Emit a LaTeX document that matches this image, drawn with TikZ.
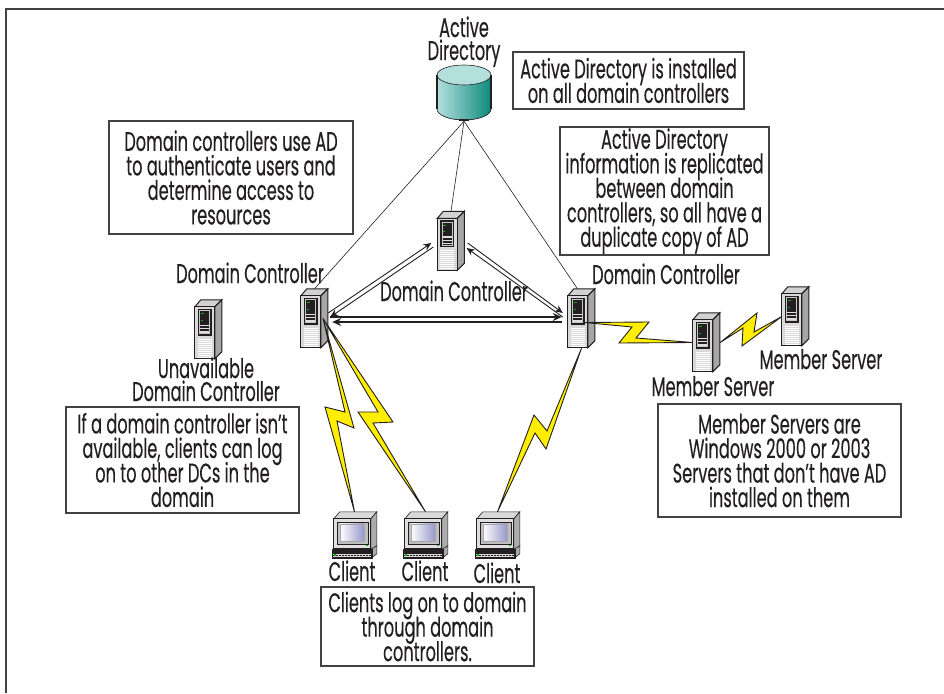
\documentclass[tikz,border=0pt]{standalone}
\usepackage{fontspec}
\setmainfont[FakeStretch=0.6,FakeBold=0.3]{Poppins}
\usetikzlibrary{arrows.meta}
\definecolor{ink}{HTML}{231F20}
\definecolor{boltyellow}{HTML}{FFEE00}
\definecolor{adlight}{HTML}{B4E0DC}
\definecolor{addark}{HTML}{0E8A7E}
\definecolor{screenblue}{HTML}{9A9ACC}
\newcommand{\tightlines}{\setlength{\lineskiplimit}{-50pt}}
\tikzset{
    infobox/.style={draw=ink!85, line width=1.1pt, align=center, inner sep=0pt, text=ink, font=\fontsize{27}{24.5}\selectfont\tightlines},
    caption/.style={align=center, inner sep=0pt, text=ink, font=\fontsize{27}{23}\selectfont\tightlines},
    serverspot/.style={minimum width=27pt, minimum height=59pt, inner sep=0pt},
    clientspot/.style={minimum width=45pt, minimum height=46pt, inner sep=0pt},
    link/.style={draw=ink, line width=0.6pt},
    repl/.style={draw=ink, line width=0.9pt, -{Stealth[length=8pt,width=7pt]}},
    replthick/.style={draw=ink, line width=2pt, -{Stealth[length=9pt,width=8pt]}},
    bolt/.style={draw=ink, fill=boltyellow, line width=0.9pt, line join=miter},
    server/.pic={
        \filldraw[ink, fill=gray!35, line width=1pt] (0,7) -- (6,0) -- (27,0) -- (20,7) -- cycle;
        \filldraw[ink, fill=gray!70, line width=1pt] (20,7) -- (27,0) -- (27,52) -- (20,59) -- cycle;
        \filldraw[ink, fill=gray!30, line width=1.2pt] (0,7) rectangle (20,59);
        \fill[ink] (3,9) rectangle (17,36);
        \fill[gray!45] (4.5,10.5) rectangle (15.5,34.5);
        \fill[ink] (5.5,11.5) rectangle (14.5,33.5);
        \fill[green!70!black] (6,13.5) rectangle (9,14.5);
        \fill[green!70!black] (6,20) rectangle (8,21);
        \foreach \slot in {26,29.2,32.4} {
            \fill[gray!25] (5.5,\slot-1) rectangle (14.5,\slot+0.4);
        }
        \foreach \slot in {39,41,...,57} {
            \draw[white, line width=0.5pt] (3,\slot) -- (17,\slot);
        }
    },
    client/.pic={
        \filldraw[ink, fill=gray!30, line width=0.6pt] (2,7) -- (8,0) -- (45,0) -- (39,7) -- cycle;
        \filldraw[ink, fill=gray!65, line width=0.6pt] (39,7) -- (45,0) -- (45,35) -- (42,37) -- (39,37) -- cycle;
        \filldraw[ink, fill=gray!25, line width=1pt] (2,7) rectangle (39,37);
        \filldraw[ink, fill=gray!50, line width=0.5pt] (5,10) rectangle (36,32);
        \shade[left color=white, right color=screenblue, draw=gray!70] (8,12) rectangle (32,29);
        \fill[green!70!black] (34,33) rectangle (36,34.5);
        \filldraw[ink, fill=gray!65, line width=0.6pt] (40,37) -- (45,34) -- (45,42) -- (40,46) -- cycle;
        \filldraw[ink, fill=ink, line width=0.6pt] (0,37) rectangle (40,46);
        \fill[gray!30] (1,42) rectangle (39,45);
        \draw[ink, dash pattern=on 0.6pt off 0.9pt, line width=0.6pt] (1,43.5) -- (39,43.5);
        \fill[green!70!black] (2,42.5) rectangle (4,44);
    }
}
\begin{document}
\begin{tikzpicture}[x=1pt,y=-1pt]
    \useasboundingbox (0,0) rectangle (944,693);
    \draw[ink!85, line width=1.1pt] (6,693) -- (6,9) -- (944,9);

    % machines
    \node[serverspot] (dcleft) at (314.5,318.5) {};
    \node[serverspot] (dccenter) at (451,241) {};
    \node[serverspot] (dcright) at (581.5,318.5) {};
    \node[serverspot] (dcdown) at (208.5,329.5) {};
    \node[serverspot] (memberone) at (706.5,342.5) {};
    \node[serverspot] (membertwo) at (795.5,316.5) {};
    \node[clientspot] (clientone) at (354.5,535) {};
    \node[clientspot] (clienttwo) at (425.5,535) {};
    \node[clientspot] (clientthree) at (497.5,535) {};
    \node[minimum width=54pt, minimum height=56pt, inner sep=0pt] (ad) at (464,93) {};

    % links to the directory
    \draw[link] (ad.south) -- (dcleft.north);
    \draw[link] (ad.south) -- (dccenter.north);
    \draw[link] (ad.south) -- ([xshift=-4pt]dcright.north);

    % the directory
    \fill[left color=adlight, right color=addark] (437,75) -- (437,109) arc[start angle=180, end angle=360, x radius=27, y radius=-11] -- (491,75) -- cycle;
    \fill[ink] (459,119) rectangle (469,120.5);
    \filldraw[ink, fill=adlight, line width=0.6pt] (464,75) ellipse[x radius=27, y radius=10];
    \draw[ink, line width=1.6pt] (437,75) -- (437,109);
    \draw[ink, line width=1.6pt] (491,75) -- (491,109);
    \draw[ink, line width=0.6pt] (437,109) arc[start angle=180, end angle=360, x radius=27, y radius=-11];

    \pic at (dcleft.north west) {server};
    \pic at (dccenter.north west) {server};
    \pic at (dcright.north west) {server};
    \pic at (dcdown.north west) {server};
    \pic at (memberone.north west) {server};
    \pic at (membertwo.north west) {server};
    \pic at (clientone.north west) {client};
    \pic at (clienttwo.north west) {client};
    \pic at (clientthree.north west) {client};

    % replication
    \draw[repl] ([yshift=5.5pt]dcleft.east) -- ([xshift=-6pt,yshift=-2pt]dccenter.west);
    \draw[repl] ([xshift=-4pt,yshift=-6pt]dccenter.west) -- ([xshift=2pt,yshift=1.5pt]dcleft.east);
    \draw[repl] ([xshift=3pt,yshift=-2pt]dccenter.east) -- ([xshift=-5pt,yshift=5.5pt]dcright.west);
    \draw[repl] ([xshift=-5pt,yshift=1.5pt]dcright.west) -- ([xshift=2pt,yshift=-7pt]dccenter.east);
    \draw[replthick] ([xshift=2pt,yshift=1.5pt]dcleft.east) -- ([xshift=-6pt,yshift=1.5pt]dcright.west);
    \draw[replthick] ([xshift=-6pt,yshift=-3.5pt]dcright.west) -- ([xshift=4pt,yshift=-3.5pt]dcleft.east);

    % wan links
    \filldraw[bolt] ([xshift=8.5pt]dcleft.center) -- (345,412) -- (325,407) -- (clientone.north) -- (337,421) -- (354,428) -- cycle;
    \filldraw[bolt] ([xshift=8.5pt]dcleft.center) -- (393,422) -- (373,423) -- (clienttwo.north) -- (358,412) -- (378,412) -- cycle;
    \filldraw[bolt] (dcright.south) -- (546,449) -- (535,433) -- (clientthree.north) -- (534,415) -- (547,431) -- cycle;
    \filldraw[bolt] ([xshift=3pt,yshift=-4pt]dcright.center) -- (649,322) -- (636,338) -- (memberone.west) -- (619,343) -- (632,327) -- cycle;
    \filldraw[bolt] (memberone.east) -- (757,313) -- (754,332) -- (membertwo.west) -- (742,346) -- (743,328) -- cycle;

    % captions
    \node[caption, anchor=base] (adlabel) at (464,60) {Active\\Directory};
    \node[caption, anchor=base] (dcleftlabel) at (250,283) {Domain Controller};
    \node[caption, anchor=base] (dccenterlabel) at (454,301) {Domain Controller};
    \node[caption, anchor=base] (dcrightlabel) at (666,284) {Domain Controller};
    \node[caption, anchor=base] (dcdownlabel) at (206,401) {Unavailable\\Domain Controller};
    \node[caption, anchor=base] (memberonelabel) at (713,396) {Member Server};
    \node[caption, anchor=base] (membertwolabel) at (821,369) {Member Server};
    \node[caption, anchor=base] (clientonelabel) at (352,581) {Client};
    \node[caption, anchor=base] (clienttwolabel) at (425,581) {Client};
    \node[caption, anchor=base] (clientthreelabel) at (497,583) {Client};

    % notes
    \node[infobox, minimum width=231pt, minimum height=57pt] (noteinstalled) at (628.5,80.5) {Active Directory is installed\\on all domain controllers};
    \node[infobox, minimum width=209pt, minimum height=128pt] (notereplicated) at (664.5,191) {Active Directory\\information is replicated\\between domain\\controllers, so all have a\\duplicate copy of AD};
    \node[infobox, minimum width=244pt, minimum height=113pt] (noteauth) at (231,177.5) {Domain controllers use AD\\to authenticate users and\\determine access to\\resources};
    \node[infobox, minimum width=233pt, minimum height=106pt] (noteavailable) at (182.5,460) {If a domain controller isn’t\\available, clients can log\\on to other DCs in the\\domain};
    \node[infobox, minimum width=243pt, minimum height=113pt] (notemember) at (779.5,460.5) {Member Servers are\\Windows 2000 or 2003\\Servers that don’t have AD\\installed on them};
    \node[infobox, minimum width=213pt, minimum height=79pt] (noteclients) at (427.5,626.5) {Clients log on to domain\\through domain\\controllers.};
\end{tikzpicture}
\end{document}
